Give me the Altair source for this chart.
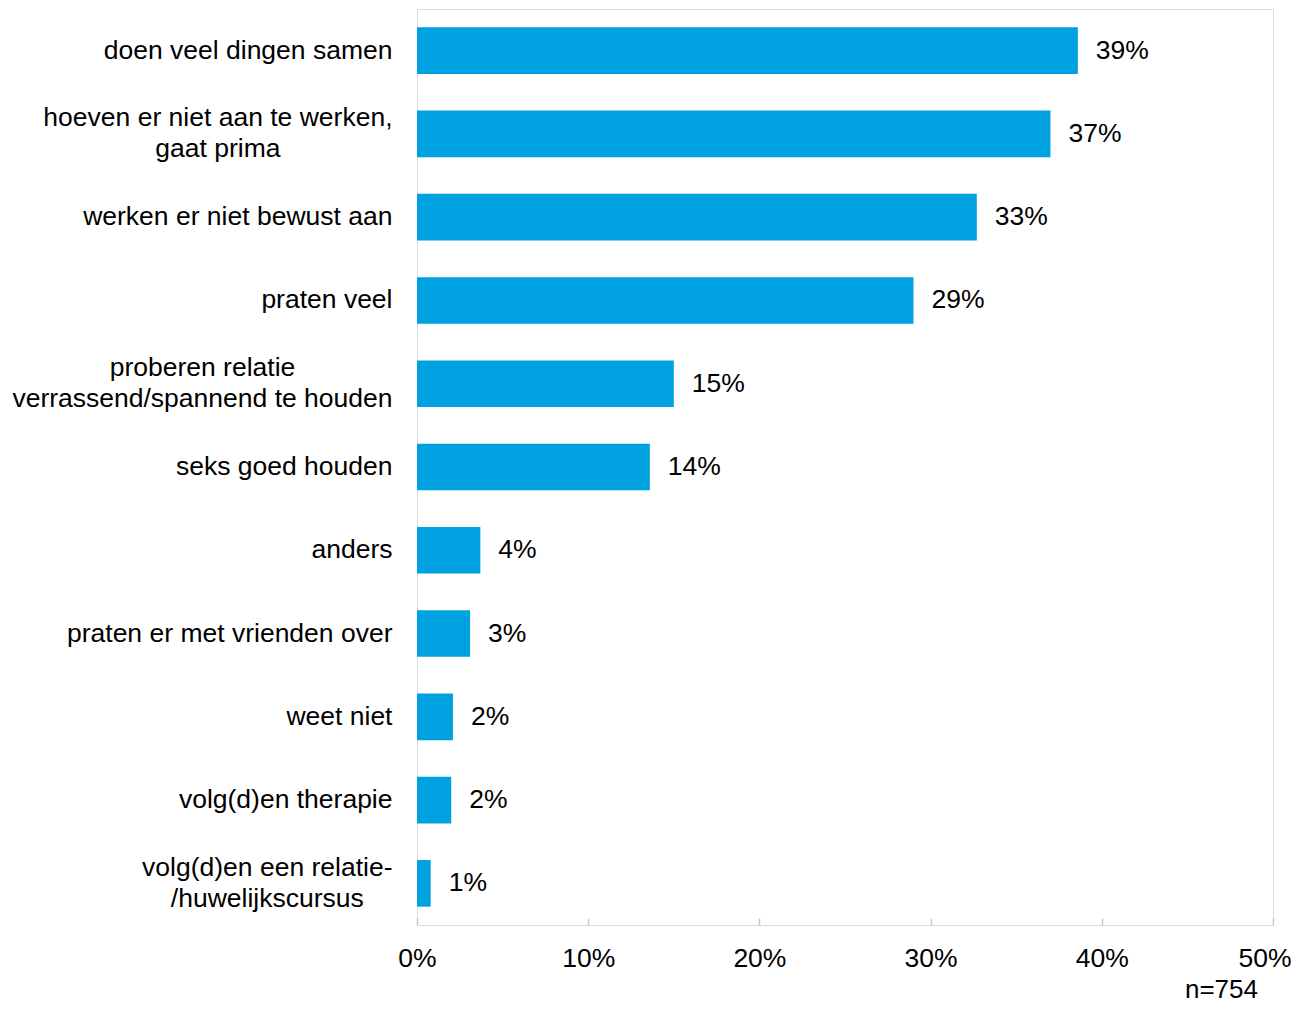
import json
import altair as alt
import pandas as pd

categories = [
    "doen veel dingen samen",
    "hoeven er niet aan te werken,\ngaat prima",
    "werken er niet bewust aan",
    "praten veel",
    "proberen relatie\nverrassend/spannend te houden",
    "seks goed houden",
    "anders",
    "praten er met vrienden over",
    "weet niet",
    "volg(d)en therapie",
    "volg(d)en een relatie-\n/huwelijkscursus",
]
values = [38.6, 37.0, 32.7, 29.0, 15.0, 13.6, 3.7, 3.1, 2.1, 2.0, 0.8]
x_ticks = [0, 0.1, 0.2, 0.3, 0.4, 0.5]
note = "n=754"

FONT = "Liberation Sans"
FS = 26.5
LINE_H = 31
BLUE = "#00a1e0"
GRAY = "#c8c8c8"
PAD = 25

# approximate Arial/Liberation Sans advance widths (1/1000 em), used to centre
# multi-line category labels as a block that is right-aligned to the axis
W = {" ": 278, ",": 278, "/": 278, "-": 333, "(": 333, ")": 333}
for ch in "abdeghnopqu":
    W[ch] = 556
for ch in "cksvyz":
    W[ch] = 500
for ch in "ijl":
    W[ch] = 222
for ch in "ft":
    W[ch] = 278
W["r"] = 333
W["m"] = 833
W["w"] = 722


def widest_px(label):
    return max(sum(W.get(c, 556) for c in line) for line in label.split("\n")) * FS / 1000


multi = [c for c in categories if "\n" in c]
pad_conditions = [
    {"test": f"datum.value === {json.dumps(c)}", "value": PAD + widest_px(c) / 2}
    for c in multi
]
is_multi = "indexof(datum.value, '\\n') >= 0"
is_last_tick = f"datum.value >= {x_ticks[-1]}"

df = pd.DataFrame({"cat": categories, "value": [v / 100 for v in values]})

base = alt.Chart(df)

x_enc = alt.X(
    "value:Q",
    scale=alt.Scale(domain=[0, 0.5], nice=False),
    axis=alt.Axis(
        values=x_ticks,
        format=".0%",
        title=None,
        grid=False,
        domain=False,
        ticks=True,
        tickSize=7,
        tickColor=GRAY,
        tickWidth=1.5,
        offset=-7,
        labelPadding=20,
        labelFont=FONT,
        labelFontSize=FS,
        labelColor="black",
        labelFlush=False,
        labelOverlap=False,
        labelAlign={"condition": {"test": is_last_tick, "value": "right"}, "value": "center"},
        labelOffset={"condition": {"test": is_last_tick, "value": 18}, "value": 0},
    ),
)
y_enc = alt.Y(
    "cat:N",
    sort=categories,
    scale=alt.Scale(paddingInner=0.44, paddingOuter=0.22),
    axis=alt.Axis(
        title=None,
        domain=False,
        ticks=False,
        tickSize=0,
        labelPadding={"condition": pad_conditions, "value": PAD},
        labelAlign={"condition": {"test": is_multi, "value": "center"}, "value": "right"},
        labelOffset={"condition": {"test": is_multi, "value": -LINE_H / 2}, "value": 0},
        labelFont=FONT,
        labelFontSize=FS,
        labelColor="black",
        labelLimit=600,
        labelLineHeight=LINE_H,
        labelExpr="split(datum.label, '\\n')",
    ),
)

bars = base.mark_bar(color=BLUE).encode(x=x_enc, y=y_enc)
labels = base.mark_text(
    align="left", baseline="middle", dx=18, font=FONT, fontSize=FS, color="black"
).encode(
    x="value:Q",
    y=alt.Y("cat:N", sort=categories),
    text=alt.Text("value:Q", format=".0%"),
)

chart = (
    alt.layer(bars, labels)
    .properties(
        width=856,
        height=916,
        autosize=alt.AutoSizeParams(type="none"),
        padding={"left": 409, "top": 1, "right": 20, "bottom": 79},
        title=alt.TitleParams(
            note,
            orient="bottom",
            anchor="end",
            frame="group",
            font=FONT,
            fontSize=26,
            fontWeight="normal",
            color="black",
            dx=-15,
            offset=5,
        ),
    )
    .configure_view(stroke=GRAY, strokeWidth=2)
    .configure(background="white")
)

chart.save("out.html", embed_options={"renderer": "svg", "actions": False})
